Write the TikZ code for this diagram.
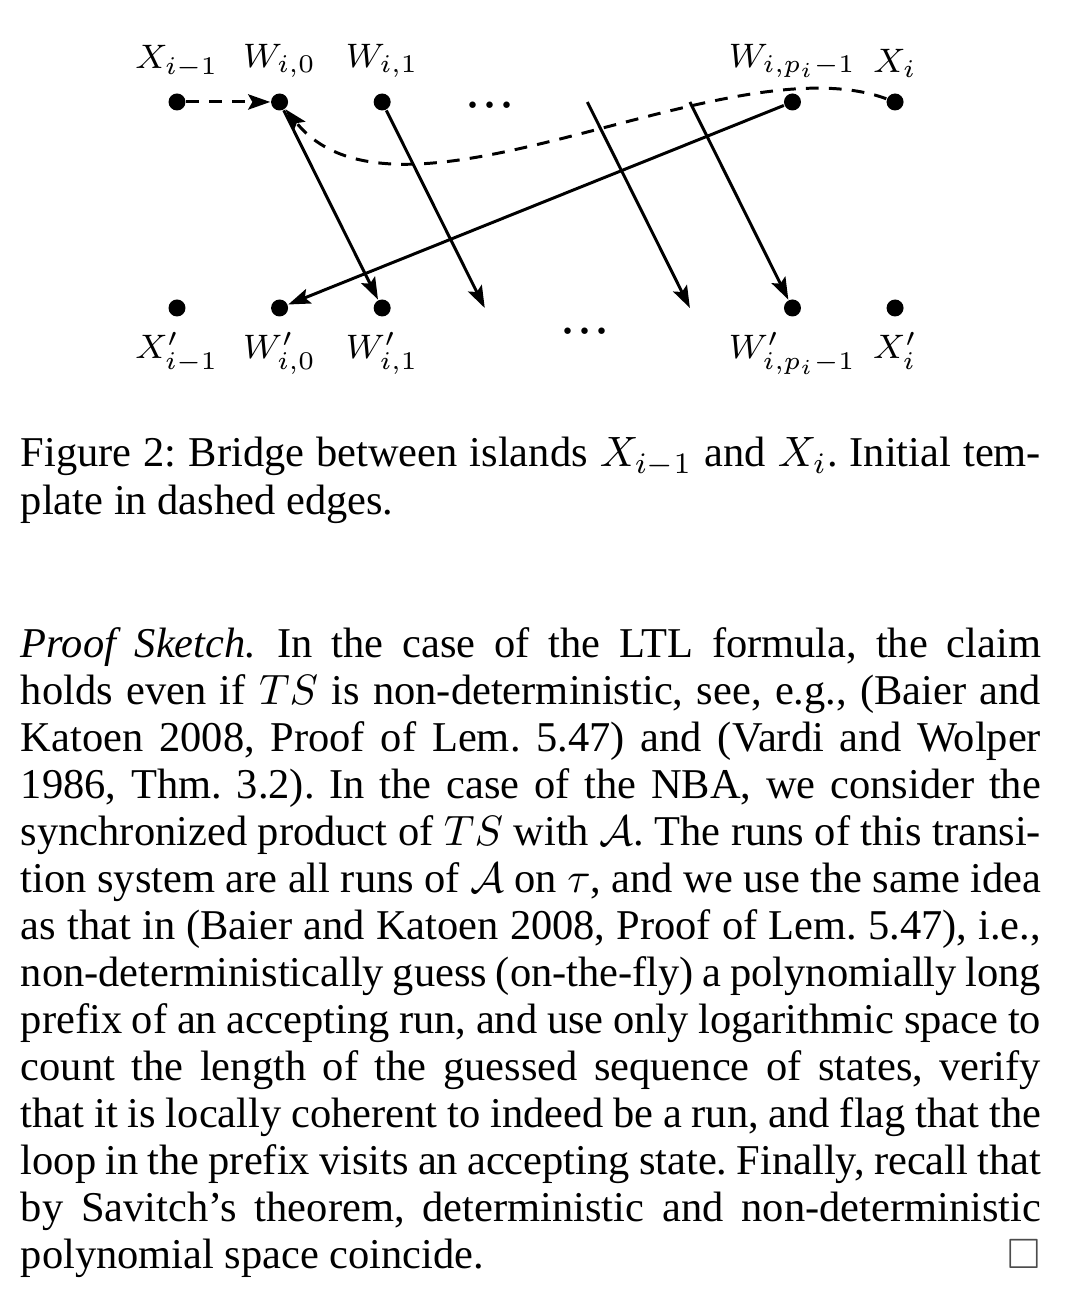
\documentclass[tikz,border=0pt]{standalone}
\usepackage{amsmath}
\usepackage{amssymb}
\usepackage[no-math]{fontspec}
\setmainfont{Liberation Serif}
\usetikzlibrary{arrows.meta}

\begin{document}
\begin{tikzpicture}[
    dot/.style={circle, fill=black, inner sep=0pt, minimum size=4pt},
    lbl/.style={font=\footnotesize},
    elide/.style={font=\Large, inner sep=0pt},
    edge/.style={line width=0.7pt, -{Stealth[length=5.2pt,width=3.6pt,inset=1pt]}},
    tmpl/.style={edge, dash pattern=on 3pt off 2.4pt},
    para/.style={anchor=base west, inner sep=0pt, text width=8.443cm, align=justify,
                 font=\fontsize{10pt}{11.07pt}\selectfont\frenchspacing}
  ]
  \useasboundingbox (0,0) rectangle (8.939,-10.892);

  % ---------- top row: islands and bridge states ----------
  \node[dot, label={[lbl]above:$X_{i-1}$}] (x0) at (1.465,-0.844) {};
  \node[dot, label={[lbl]above:$W_{i,0}$}] (w0) at (2.314,-0.844) {};
  \node[dot, label={[lbl]above:$W_{i,1}$}] (w1) at (3.163,-0.844) {};
  \node[elide] (topdots) at (4.056,-0.884) {${\cdot}{\cdot}{\cdot}$};
  \node[dot, label={[lbl]above:$W_{i,p_i-1}$}] (wp) at (6.559,-0.844) {};
  \node[dot, label={[lbl]above:$X_i$}] (x1) at (7.408,-0.844) {};

  % ---------- bottom row: primed copies ----------
  \node[dot, label={[lbl]below:$X'_{i-1}$}] (x0p) at (1.465,-2.549) {};
  \node[dot, label={[lbl]below:$W'_{i,0}$}] (w0p) at (2.314,-2.549) {};
  \node[dot, label={[lbl]below:$W'_{i,1}$}] (w1p) at (3.163,-2.549) {};
  \node[elide] (botdots) at (4.842,-2.755) {${\cdot}{\cdot}{\cdot}$};
  \node[dot, label={[lbl]below:$W'_{i,p_i-1}$}] (wpp) at (6.559,-2.549) {};
  \node[dot, label={[lbl]below:$X'_i$}] (x1p) at (7.408,-2.549) {};

  % loose ends of the elided middle edges
  \coordinate (b3) at (4.012,-2.549);
  \coordinate (t4) at (4.861,-0.844);
  \coordinate (b5) at (5.710,-2.549);
  \coordinate (t5) at (5.710,-0.844);

  % initial template (dashed)
  \draw[tmpl] (x0) -- (w0);
  \draw[tmpl] (x1) .. controls +(-1.39,0.513) and +(0.993,-1.225) .. (w0);

  % bridge edges down to the primed row
  \draw[edge] (w0) -- (w1p);
  \draw[edge] (w1) -- (b3);
  \draw[edge] (t4) -- (b5);
  \draw[edge] (t5) -- (wpp);
  \draw[edge] (wp) -- (w0p);

  % ---------- caption and proof ----------
  \node[para] (caption) at (0.166,-3.865)
    {Figure 2: Bridge between islands $X_{i-1}$ and $X_i$. Initial tem-\linebreak
     plate in dashed edges.};

  \node[para] (proof) at (0.166,-5.438)
    {\textit{Proof Sketch.}\enspace In the case of the LTL formula, the claim\linebreak
     holds even if $TS$ is non-deterministic, see, e.g., (Baier and\linebreak
     Katoen 2008, Proof of Lem.~5.47) and (Vardi and Wolper\linebreak
     1986, Thm.~3.2). In the case of the NBA, we consider the\linebreak
     synchronized product of $TS$ with $\mathcal{A}$. The runs of this transi-\linebreak
     tion system are all runs of $\mathcal{A}$ on $\tau$, and we use the same idea\linebreak
     as that in (Baier and Katoen 2008, Proof of Lem.~5.47), i.e.,\linebreak
     non-deterministically guess (on-the-fly) a polynomially long\linebreak
     prefix of an accepting run, and use only logarithmic space to\linebreak
     count the length of the guessed sequence of states, verify\linebreak
     that it is locally coherent to indeed be a run, and flag that the\linebreak
     loop in the prefix visits an accepting state. Finally, recall that\linebreak
     by Savitch's theorem, deterministic and non-deterministic\linebreak
     polynomial space coincide.\hfill\textcolor{black!70}{$\square$}};
\end{tikzpicture}
\end{document}
